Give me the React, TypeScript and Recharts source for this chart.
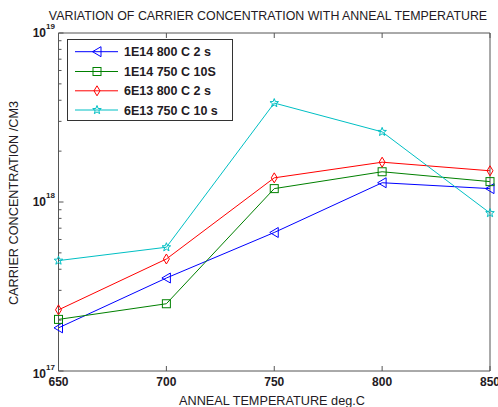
import React from 'react';
import { LineChart, Line, XAxis, YAxis, Legend } from 'recharts';

// ---- data ----
const temps = [650, 700, 750, 800, 850];
const s1E14_800 = [1.8e17, 3.55e17, 6.6e17, 1.3e18, 1.2e18];
const s1E14_750 = [2.02e17, 2.5e17, 1.2e18, 1.51e18, 1.32e18];
const s6E13_800 = [2.3e17, 4.6e17, 1.39e18, 1.72e18, 1.53e18];
const s6E13_750 = [4.5e17, 5.4e17, 3.85e18, 2.6e18, 8.6e17];
const seriesNames = ['1E14 800 C 2 s', '1E14 750 C 10S', '6E13 800 C 2 s', '6E13 750 C 10 s'];
const xTicks = [650, 700, 750, 800, 850];
const yTicks = [
  1e17, 2e17, 3e17, 4e17, 5e17, 6e17, 7e17, 8e17, 9e17,
  1e18, 2e18, 3e18, 4e18, 5e18, 6e18, 7e18, 8e18, 9e18, 1e19,
];
const titleText = 'VARIATION OF CARRIER CONCENTRATION WITH ANNEAL TEMPERATURE';
const xLabelText = 'ANNEAL TEMPERATURE deg.C';
const yLabelText = 'CARRIER CONCENTRATION /CM3';

const data = temps.map((t, i) => ({
  t,
  a: s1E14_800[i],
  b: s1E14_750[i],
  c: s6E13_800[i],
  d: s6E13_750[i],
}));

const FONT = '"Liberation Sans", Arial, sans-serif';
const AXIS = '#555';
const TXT = '#231a23';

type Kind = 'tri' | 'sq' | 'dia' | 'star';
const series: { key: string; color: string; kind: Kind }[] = [
  { key: 'a', color: '#0000ff', kind: 'tri' },
  { key: 'b', color: '#008000', kind: 'sq' },
  { key: 'c', color: '#ff0000', kind: 'dia' },
  { key: 'd', color: '#00bfc4', kind: 'star' },
];

function starPoints(cx: number, cy: number, ro: number, ri: number) {
  const pts: string[] = [];
  for (let i = 0; i < 10; i++) {
    const r = i % 2 === 0 ? ro : ri;
    const ang = -Math.PI / 2 + (i * Math.PI) / 5;
    pts.push(`${cx + r * Math.cos(ang)},${cy + r * Math.sin(ang)}`);
  }
  return pts.join(' ');
}

function Marker({ kind, cx, cy, color }: { kind: Kind; cx: number; cy: number; color: string }) {
  if (kind === 'tri')
    return <polygon points={`${cx - 4.5},${cy} ${cx + 4},${cy - 5} ${cx + 4},${cy + 5}`} fill="none" stroke={color} strokeWidth={1} />;
  if (kind === 'sq')
    return <rect x={cx - 4} y={cy - 4} width={8} height={8} fill="none" stroke={color} strokeWidth={1} />;
  if (kind === 'dia')
    return <polygon points={`${cx},${cy - 5} ${cx + 3},${cy} ${cx},${cy + 5} ${cx - 3},${cy}`} fill="none" stroke={color} strokeWidth={1} />;
  return <polygon points={starPoints(cx, cy, 4.5, 1.9)} fill="none" stroke={color} strokeWidth={1} />;
}

const isMajor = (v: number) => {
  const l = Math.log10(v);
  return Math.abs(l - Math.round(l)) < 1e-6;
};

const LeftTick = (props: any) => {
  const { x, y, payload } = props;
  const v = payload.value;
  const major = isMajor(v);
  const e = Math.round(Math.log10(v));
  const shift = e === 17 ? 2.5 : 0;
  return (
    <g>
      <line x1={x} x2={x + (major ? 5 : 3)} y1={y} y2={y} stroke={AXIS} strokeWidth={1} />
      {major && (
        <g fontFamily={FONT} fontWeight="bold" fill={TXT}>
          <text x={x - 12.5} y={y + shift + 4.3} textAnchor="end" fontSize={12}>10</text>
          <text x={x - 12.5} y={y + shift - 4} textAnchor="start" fontSize={8}>{e}</text>
        </g>
      )}
    </g>
  );
};

const RightTick = (props: any) => {
  const { x, y, payload } = props;
  const major = isMajor(payload.value);
  return <line x1={x} x2={x - (major ? 5 : 3)} y1={y} y2={y} stroke={AXIS} strokeWidth={1} />;
};

const BottomTick = (props: any) => {
  const { x, y, payload } = props;
  return (
    <g>
      <line x1={x} x2={x} y1={y} y2={y - 5} stroke={AXIS} strokeWidth={1} />
      <text x={x} y={y + 15.3} textAnchor="middle" fontFamily={FONT} fontWeight="bold" fontSize={12} fill={TXT}>
        {payload.value}
      </text>
    </g>
  );
};

const TopTick = (props: any) => {
  const { x, y } = props;
  return <line x1={x} x2={x} y1={y} y2={y + 5} stroke={AXIS} strokeWidth={1} />;
};

const LegendBox = () => {
  const rows = [12.7, 32.5, 51.8, 71];
  return (
    <svg width={166} height={82} style={{ display: 'block' }}>
      <rect x={0.5} y={0.5} width={165} height={81} fill="#fff" stroke="#333" strokeWidth={1} />
      {series.map((s, i) => (
        <g key={s.key}>
          <line x1={8} x2={51} y1={rows[i]} y2={rows[i]} stroke={s.color} strokeWidth={1} />
          <Marker kind={s.kind} cx={30} cy={rows[i]} color={s.color} />
          <text x={57} y={rows[i] + 4.5} fontFamily={FONT} fontWeight="bold" fontSize={12.5} fill={TXT}>
            {seriesNames[i]}
          </text>
        </g>
      ))}
    </svg>
  );
};

export default function App() {
  return (
    <div style={{ position: 'absolute', left: 0, top: 0, width: 498, height: 407, background: '#fff' }}>
      <LineChart width={498} height={407} data={data} margin={{ top: 0, right: 0, bottom: 0, left: 0.5 }}>
        <XAxis
          dataKey="t"
          type="number"
          domain={[650, 850]}
          ticks={xTicks}
          interval={0}
          height={36}
          tickSize={0}
          tickMargin={0}
          tickLine={false}
          axisLine={{ stroke: AXIS, strokeWidth: 1 }}
          tick={<BottomTick />}
        />
        <XAxis
          xAxisId="top"
          orientation="top"
          dataKey="t"
          type="number"
          domain={[650, 850]}
          ticks={xTicks}
          interval={0}
          height={33}
          tickSize={0}
          tickMargin={0}
          tickLine={false}
          axisLine={{ stroke: AXIS, strokeWidth: 1 }}
          tick={<TopTick />}
        />
        <YAxis
          type="number"
          scale="log"
          domain={[1e17, 1e19]}
          ticks={yTicks}
          interval={0}
          width={58}
          tickSize={0}
          tickMargin={0}
          tickLine={false}
          axisLine={{ stroke: AXIS, strokeWidth: 1 }}
          tick={<LeftTick />}
        />
        <YAxis
          yAxisId="right"
          orientation="right"
          type="number"
          scale="log"
          domain={[1e17, 1e19]}
          ticks={yTicks}
          interval={0}
          width={8}
          tickSize={0}
          tickMargin={0}
          tickLine={false}
          axisLine={{ stroke: AXIS, strokeWidth: 1 }}
          tick={<RightTick />}
        />
        {series.map((s) => (
          <Line
            key={s.key}
            dataKey={s.key}
            stroke={s.color}
            strokeWidth={1}
            isAnimationActive={false}
            activeDot={false}
            dot={(p: any) => <Marker key={`${s.key}-${p.index}`} kind={s.kind} cx={p.cx} cy={p.cy} color={s.color} />}
          />
        ))}
        <Legend
          layout="vertical"
          align="center"
          verticalAlign="middle"
          content={() => <LegendBox />}
          wrapperStyle={{ left: 67, top: 39, width: 166, height: 82, right: 'auto', bottom: 'auto' }}
        />
      </LineChart>
      <svg width={498} height={407} style={{ position: 'absolute', left: 0, top: 0, pointerEvents: 'none' }}>
        <text x={268} y={19.5} textAnchor="middle" fontFamily={FONT} fontSize={12.4} fill={TXT}>{titleText}</text>
        <text x={272} y={404.5} textAnchor="middle" fontFamily={FONT} fontSize={12.7} fill={TXT}>{xLabelText}</text>
        <text
          x={0}
          y={0}
          transform="translate(18,203) rotate(-90)"
          textAnchor="middle"
          fontFamily={FONT}
          fontSize={12.7}
          fill={TXT}
        >
          {yLabelText}
        </text>
      </svg>
    </div>
  );
}
